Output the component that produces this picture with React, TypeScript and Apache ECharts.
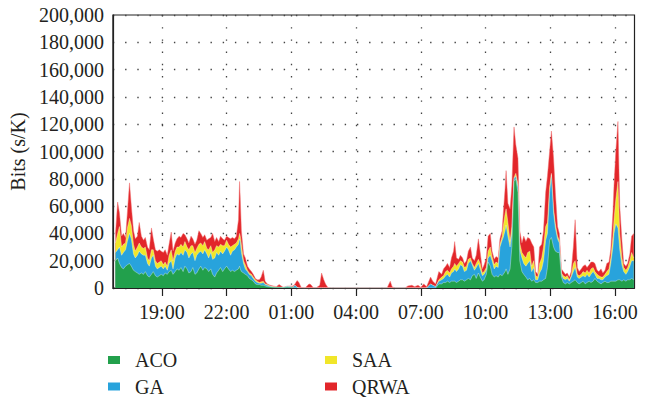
import React, { useEffect, useRef } from "react";
import * as echarts from "echarts";

const FONT = "'Liberation Serif', 'DejaVu Serif', serif";

const TIMES = [
  "16:51","16:57","17:02","17:08","17:13","17:19","17:24","17:30","17:35","17:41",
  "17:46","17:52","17:57","18:03","18:09","18:14","18:20","18:25","18:31","18:36",
  "18:42","18:47","18:53","18:58","19:04","19:09","19:15","19:20","19:26","19:31",
  "19:37","19:42","19:48","19:53","19:59","20:04","20:10","20:15","20:21","20:26",
  "20:32","20:37","20:43","20:48","20:54","20:59","21:05","21:10","21:16","21:21",
  "21:27","21:32","21:38","21:43","21:49","21:54","22:00","22:05","22:11","22:16",
  "22:22","22:27","22:33","22:36","22:38","22:41","22:47","22:52","22:58","23:03",
  "23:09","23:14","23:20","23:25","23:31","23:36","23:42","23:47","23:53","00:01",
  "00:09","00:18","00:26","00:37","00:48","00:59","01:05","01:10","01:16","01:21",
  "01:27","01:38","01:49","01:54","02:00","02:08","02:19","02:24","02:30","02:35",
  "02:41","02:49","05:26","05:35","05:40","05:48","06:16","06:24","06:35","06:43",
  "06:52","07:00","07:08","07:16","07:27","07:33","07:41","07:50","07:58","08:03",
  "08:09","08:14","08:20","08:25","08:31","08:34","08:39","08:45","08:50","08:56",
  "09:01","09:07","09:12","09:18","09:23","09:29","09:34","09:40","09:45","09:51",
  "09:56","10:02","10:07","10:13","10:18","10:24","10:29","10:35","10:40","10:46",
  "10:49","10:54","10:57","11:02","11:08","11:13","11:19","11:24","11:30","11:35",
  "11:41","11:46","11:52","11:57","12:03","12:08","12:14","12:19","12:25","12:30",
  "12:36","12:41","12:47","12:52","12:58","13:03","13:09","13:14","13:20","13:25",
  "13:31","13:36","13:42","13:47","13:53","13:58","14:04","14:09","14:15","14:20",
  "14:26","14:31","14:37","14:42","14:48","14:53","14:59","15:04","15:10","15:15",
  "15:21","15:26","15:32","15:37","15:43","15:48","15:54","15:57","16:02","16:08",
  "16:13","16:19","16:24","16:30","16:35","16:41","16:46","16:52"
];

const ACO = [
  20000,22000,18000,15000,14000,16000,17000,18000,16000,13000,
  12000,11000,10000,11000,10000,12000,9000,8000,10000,12000,
  9000,8000,9000,10000,9000,11000,10000,12000,13000,10000,
  12000,14000,13000,15000,12000,16000,14000,11000,12000,15000,
  10000,11000,14000,16000,13000,15000,14000,12000,14000,10000,
  8000,11000,13000,15000,12000,14000,16000,14000,12000,13000,
  12000,13000,14000,16000,14000,12000,11000,10000,9000,7000,
  6000,5000,3000,2500,2500,2000,2000,1500,1000,800,
  600,500,500,400,600,500,300,200,0,0,
  0,0,0,0,0,0,0,0,0,0,
  0,0,0,0,0,0,0,0,0,0,
  0,0,0,0,0,0,0,3000,3000,4000,
  4000,5000,4000,5000,5000,5000,4000,5000,6000,6000,
  5000,6000,7000,6000,9000,10000,7000,11000,8000,5000,
  6000,10000,19000,16000,10000,8000,9000,8000,10000,9000,
  10000,12000,14000,10000,14000,30000,78000,80000,70000,20000,
  12000,10000,8000,6000,7000,5000,6000,4000,4000,5000,
  5000,6000,7000,15000,35000,37000,30000,27000,26000,26000,
  8000,4000,3000,4000,3000,4000,5000,6000,4000,3000,
  4000,5000,3000,4000,5000,4000,5000,7000,5000,4000,
  3000,4000,5000,4000,4000,5000,5000,5000,5000,6000,
  6000,5000,6000,5000,6000,6000,7000,6000
];

const GA = [
  6000,6000,12000,9000,12000,12000,17000,22000,20000,12000,
  10000,13000,17000,14000,14000,12000,9000,8000,12000,12000,
  7000,6000,6000,6000,5000,5000,3000,6000,7000,4000,
  10000,11000,11000,11000,12000,12000,12000,11000,13000,11000,
  10000,13000,12000,11000,12000,13000,11000,10000,12000,11000,
  14000,15000,11000,12000,13000,13000,14000,14000,12000,14000,
  16000,17000,18000,20000,20000,14000,7000,4000,3000,3000,
  3000,2000,2000,1500,1000,1500,2000,1000,1000,400,
  200,100,0,0,600,500,500,1800,500,0,
  0,0,0,0,0,0,0,0,0,0,
  0,0,0,0,0,0,0,0,0,0,
  0,0,0,0,3000,2000,1000,2000,3000,3000,
  5000,5000,4000,6000,7000,9000,8000,9000,11000,10000,
  7000,7000,11000,14000,8000,3000,8000,7000,6000,4000,
  4000,3000,3000,8000,10000,6000,7000,7000,20000,26000,
  27000,30000,32000,28000,16000,10000,2000,2000,4000,8000,
  10000,8000,8000,12000,13000,7000,9000,2000,2000,6000,
  9000,14000,28000,25000,35000,46000,25000,17000,10000,7000,
  2000,3000,3000,3000,2000,4000,7000,9000,4000,4000,
  4000,4000,5000,6000,3000,6000,7000,3000,2000,3000,
  3000,2000,3000,5000,6000,13000,25000,35000,42000,38000,
  22000,12000,6000,5000,6000,10000,13000,14000
];

const SAA = [
  7000,12000,15000,6000,6000,5000,10000,11000,10000,7000,
  5000,6000,6000,5000,5000,6000,4000,4000,6000,4000,
  4000,4000,4000,4000,3000,3000,3000,6000,8000,6000,
  5000,5000,6000,6000,6000,6000,4000,6000,6000,5000,
  6000,5000,6000,6000,6000,6000,4000,6000,5000,5000,
  6000,5000,6000,5000,6000,4000,5000,4000,6000,4000,
  4000,3000,4000,4000,4000,6000,2000,3000,1000,1000,
  1000,1000,1000,1000,500,1000,1000,500,500,300,
  200,100,0,0,0,0,0,0,0,0,
  0,0,0,0,0,0,0,0,0,0,
  0,0,0,0,0,0,0,0,0,0,
  0,0,0,0,0,0,0,1000,2000,2000,
  3000,3000,3000,3000,4000,4000,4000,4000,3000,3000,
  3000,3000,3000,2000,1000,2000,3000,3000,4000,2000,
  2000,2000,5000,6000,3000,3000,3000,3000,2000,3000,
  8000,12000,12000,10000,4000,5000,1000,2000,2000,5000,
  4000,6000,6000,8000,7000,4000,5000,3000,2000,7000,
  8000,10000,10000,8000,4000,1000,3000,3000,2000,2000,
  1000,2000,2000,2000,1000,1000,6000,5000,2000,2000,
  2000,3000,3000,3000,3000,4000,3000,2000,3000,2000,
  2000,2000,2000,3000,4000,4000,8000,10000,18000,34000,
  12000,5000,3000,3000,3000,4000,6000,2000
];

const QRWA = [
  7000,23000,10000,8000,8000,4000,11000,26000,14000,10000,
  9000,8000,15000,8000,6000,7000,8000,8000,16000,8000,
  8000,9000,9000,7000,9000,9000,8000,8000,13000,7000,
  6000,6000,8000,5000,10000,5000,6000,5000,7000,5000,
  6000,6000,10000,7000,6000,5000,6000,8000,6000,14000,
  6000,6000,4000,6000,5000,4000,3000,5000,6000,6000,
  4000,5000,14000,38000,27000,10000,5000,5000,3000,3000,
  2000,2000,1000,1000,2000,3500,8000,2000,500,500,
  500,300,2000,200,100,500,700,1000,5000,4000,
  500,0,3000,2500,500,0,2000,11000,6000,3000,
  500,0,0,5000,1000,0,0,1500,2000,1000,
  2000,500,3000,1000,5000,3000,2000,6000,2000,5000,
  4000,5000,4000,8000,11000,16000,6000,3000,4000,3000,
  3000,4000,6000,8000,4000,5000,6000,15000,8000,3000,
  5000,7000,11000,10000,4000,4000,4000,4000,4000,4000,
  9000,18000,28000,14000,24000,30000,37000,21000,19000,9000,
  7000,14000,12000,11000,9000,17000,10000,3000,2000,12000,
  10000,12000,25000,34000,26000,31000,37000,23000,7000,5000,
  3000,3000,2000,2000,2000,3000,12000,30000,5000,3000,
  4000,4000,6000,2000,6000,5000,4000,6000,3000,3000,
  6000,3000,3000,6000,5000,6000,17000,25000,35000,44000,
  20000,13000,3000,3000,3000,5000,12000,18000
];

const X_TICKS = ["19:00", "22:00", "01:00", "04:00", "07:00", "10:00", "13:00", "16:00"];
const SERIES_NAMES = ["ACO", "GA", "SAA", "QRWA"];
const COLORS = ["#22a04c", "#28a3dc", "#f1e629", "#e2262a"];

// Convert "HH:MM" clock strings to continuous hours, rolling over past midnight.
function toHours(list: string[]): number[] {
  let offset = 0;
  let prev = -Infinity;
  return list.map((s) => {
    const [h, m] = s.split(":").map(Number);
    let v = h + m / 60 + offset;
    if (v < prev) {
      offset += 24;
      v += 24;
    }
    prev = v;
    return v;
  });
}

export default function App() {
  const ref = useRef<HTMLDivElement>(null);

  useEffect(() => {
    if (!ref.current) return;
    const chart = echarts.init(ref.current, undefined, { renderer: "svg" });
    const xs = toHours(TIMES);
    const tickVals = toHours(X_TICKS);
    const values = [ACO, GA, SAA, QRWA];
    const textColor = "#231f20";
    const dotted = { type: [1.4, 10.8] as any, color: "#444", width: 1.3 };

    // Stack the layers (ECharts would stack along x when both axes are "value").
    const cumulative: number[][] = [];
    values.forEach((arr, k) => {
      cumulative.push(arr.map((v, i) => v + (k > 0 ? cumulative[k - 1][i] : 0)));
    });

    const series = SERIES_NAMES.map((name, k) => ({
      name,
      type: "line",
      z: 10 - k,
      data: xs.map((x, i) => [x, cumulative[k][i]]),
      symbol: "none",
      showSymbol: false,
      lineStyle:
        k < 3
          ? { width: 0.7, color: "rgba(255,255,255,0.5)" }
          : { width: 0.6, color: "rgba(240,110,110,0.8)" },
      areaStyle: { color: COLORS[k], opacity: 1, origin: "start" },
      itemStyle: { color: COLORS[k] },
      emphasis: { disabled: true },
    }));

    const legendBase = {
      orient: "vertical",
      top: 350,
      itemWidth: 12,
      itemHeight: 8,
      itemGap: 6.5,
      padding: 0,
      icon: "rect",
      selectedMode: false,
      textStyle: {
        fontFamily: FONT,
        fontSize: 20,
        color: textColor,
        lineHeight: 20,
        padding: [0, 0, 0, 10],
      },
    };

    chart.setOption({
      animation: false,
      backgroundColor: "#ffffff",
      color: COLORS,
      textStyle: { fontFamily: FONT },
      grid: {
        left: 108,
        top: 15,
        right: 14.5,
        bottom: 110,
        show: true,
        borderColor: "#222",
        borderWidth: 1.2,
        backgroundColor: "transparent",
      },
      legend: [
        {
          ...legendBase,
          left: 108,
          data: [
            { name: "ACO", itemStyle: { color: COLORS[0] } },
            { name: "GA", itemStyle: { color: COLORS[1] } },
          ],
        },
        {
          ...legendBase,
          left: 325,
          data: [
            { name: "SAA", itemStyle: { color: COLORS[2] } },
            { name: "QRWA", itemStyle: { color: COLORS[3] } },
          ],
        },
      ],
      xAxis: {
        type: "value",
        min: 16.73,
        max: 40.9,
        axisLine: { show: true, onZero: false, lineStyle: { color: "#222", width: 1.2 } },
        axisTick: {
          show: true,
          customValues: tickVals,
          length: 8,
          lineStyle: { color: "#222", width: 1.2 },
        },
        axisLabel: {
          customValues: tickVals,
          fontFamily: FONT,
          fontSize: 20,
          color: textColor,
          margin: 14,
          formatter: (v: number) => {
            let best = 0;
            tickVals.forEach((t, i) => {
              if (Math.abs(t - v) < Math.abs(tickVals[best] - v)) best = i;
            });
            return X_TICKS[best];
          },
        },
        splitLine: { show: true, lineStyle: dotted },
      },
      yAxis: {
        type: "value",
        min: 0,
        max: 200000,
        interval: 20000,
        name: "Bits (s/K)",
        nameLocation: "middle",
        nameGap: 68,
        nameTextStyle: { fontFamily: FONT, fontSize: 20, color: textColor },
        axisLine: { show: true, lineStyle: { color: "#222", width: 1.2 } },
        axisTick: { show: false },
        axisLabel: {
          fontFamily: FONT,
          fontSize: 20,
          color: textColor,
          margin: 9,
          formatter: (v: number) => v.toLocaleString("en-US"),
        },
        splitLine: { show: true, lineStyle: dotted },
      },
      series,
    } as any);

    return () => chart.dispose();
  }, []);

  return (
    <div
      ref={ref}
      style={{ position: "fixed", left: 0, top: 0, width: 649, height: 398, background: "#fff" }}
    />
  );
}
